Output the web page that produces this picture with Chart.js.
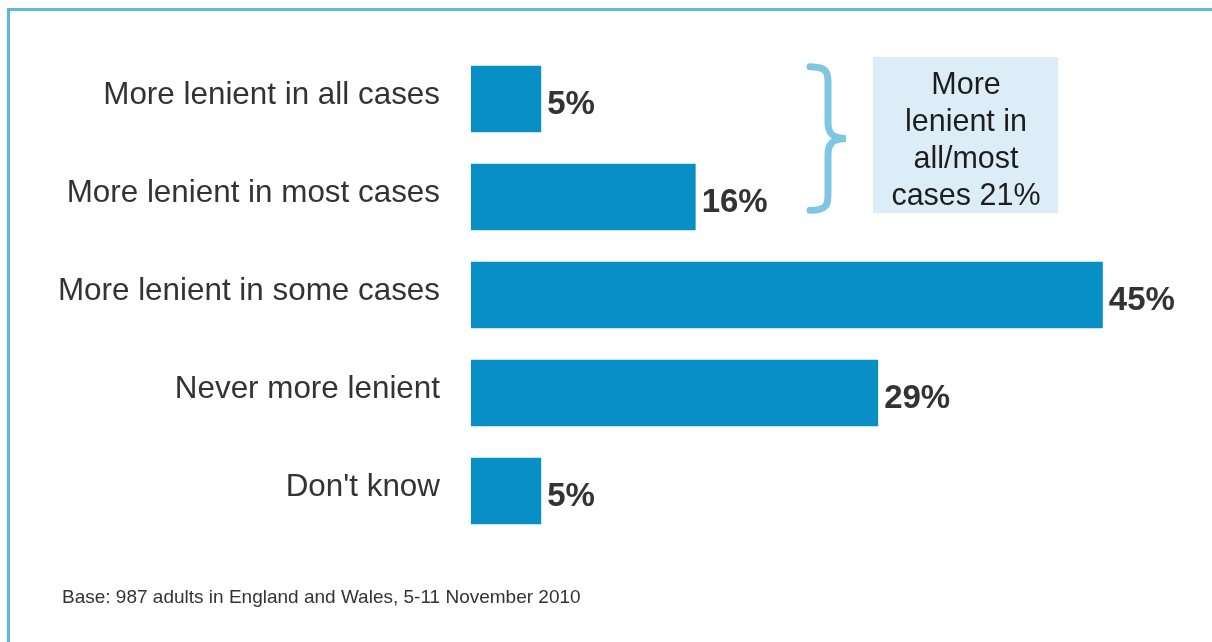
<!DOCTYPE html>
<html>
<head>
<meta charset="utf-8">
<script src="https://cdn.jsdelivr.net/npm/chart.js@4.4.1/dist/chart.umd.min.js"></script>
<style>
  html, body { margin: 0; padding: 0; background: #fff; }
  #wrap { width: 1212px; height: 642px; position: relative; }
</style>
</head>
<body>
<div id="wrap"><canvas id="chart" width="1212" height="642"></canvas></div>
<script>
// Data
const categories = [
  'More lenient in all cases',
  'More lenient in most cases',
  'More lenient in some cases',
  'Never more lenient',
  "Don't know",
];
const shares = [5, 16, 45, 29, 5];
const calloutLines = ['More', 'lenient in', 'all/most', 'cases 21%'];
const footnote = 'Base: 987 adults in England and Wales, 5-11 November 2010';

const BAR_COLOR = '#078fc6';
const FRAME_COLOR = '#5db9d9';
const TEXT_COLOR = '#333333';
const FONT = "'Liberation Sans', Arial, sans-serif";

// frame, value labels, brace + callout box, footnote
const decorations = {
  id: 'decorations',
  beforeDraw(chart) {
    const { ctx } = chart;
    ctx.save();
    ctx.fillStyle = FRAME_COLOR;
    ctx.fillRect(7, 8, chart.width - 7, 3);
    ctx.fillRect(7, 8, 3, chart.height - 8);
    ctx.restore();
  },
  afterDatasetsDraw(chart) {
    const { ctx } = chart;
    const meta = chart.getDatasetMeta(0);

    // value labels
    ctx.save();
    ctx.font = `bold 33px ${FONT}`;
    ctx.fillStyle = TEXT_COLOR;
    ctx.textBaseline = 'middle';
    ctx.textAlign = 'left';
    meta.data.forEach((bar, i) => {
      ctx.fillText(shares[i] + '%', bar.x + 6, bar.y + 6);
    });

    // brace spanning the first two bars
    const b0 = meta.data[0], b1 = meta.data[1];
    const top = b0.y - b0.height / 2 + 1;
    const bot = b1.y + b1.height / 2 - 20;
    const mid = (top + bot) / 2;
    const x0 = 810, x1 = 828, x2 = 846;
    ctx.strokeStyle = '#7fc6e2';
    ctx.lineWidth = 7;
    ctx.lineCap = 'round';
    ctx.beginPath();
    ctx.moveTo(x0, top);
    ctx.bezierCurveTo(x1 + 2, top, x1, top + 8, x1, top + 22);
    ctx.lineTo(x1, mid - 16);
    ctx.bezierCurveTo(x1, mid - 4, x1 + 6, mid, x2, mid);
    ctx.bezierCurveTo(x1 + 6, mid, x1, mid + 4, x1, mid + 16);
    ctx.lineTo(x1, bot - 22);
    ctx.bezierCurveTo(x1, bot - 8, x1 + 2, bot, x0, bot);
    ctx.stroke();

    // callout box
    ctx.fillStyle = '#dcedf7';
    ctx.fillRect(873, 57, 185, 156);
    ctx.fillStyle = '#1e1e1e';
    ctx.font = `30.5px ${FONT}`;
    ctx.textAlign = 'center';
    calloutLines.forEach((line, i) => {
      ctx.fillText(line, 966, 86 + i * 37);
    });

    // footnote
    ctx.font = `19px ${FONT}`;
    ctx.fillStyle = TEXT_COLOR;
    ctx.textAlign = 'left';
    ctx.fillText(footnote, 62, 598);
    ctx.restore();
  }
};

new Chart(document.getElementById('chart'), {
  type: 'bar',
  data: {
    labels: categories,
    datasets: [{
      data: shares,
      backgroundColor: BAR_COLOR,
      borderWidth: 0,
      barPercentage: 0.68,
      categoryPercentage: 1.0,
    }]
  },
  options: {
    indexAxis: 'y',
    responsive: false,
    animation: false,
    layout: { padding: { left: 0, right: 39, top: 50, bottom: 102 } },
    plugins: {
      legend: { display: false },
      tooltip: { enabled: false },
    },
    scales: {
      x: {
        display: false,
        min: 0,
        max: 50,
      },
      y: {
        grid: { display: false, drawTicks: false },
        border: { display: false },
        ticks: {
          color: TEXT_COLOR,
          font: { family: FONT, size: 31.4 },
          padding: 31,
          labelOffset: -4,
          autoSkip: false,
        },
        afterFit(scale) {
          scale.width = 471;
        }
      }
    }
  },
  plugins: [decorations]
});
</script>
</body>
</html>
